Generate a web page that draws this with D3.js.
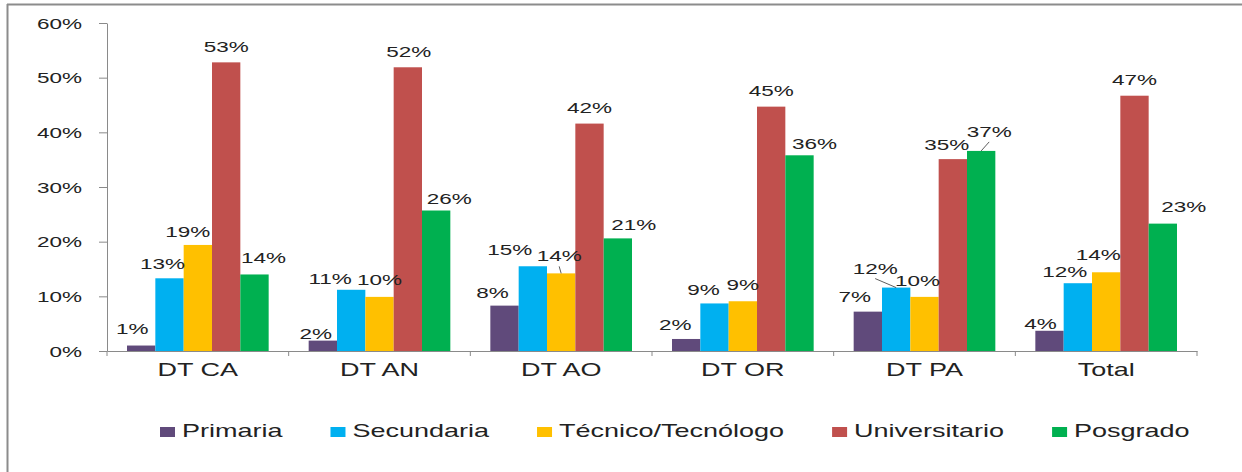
<!DOCTYPE html>
<html><head><meta charset="utf-8">
<script src="https://cdn.jsdelivr.net/npm/d3@7/dist/d3.min.js"></script>
<style>body{margin:0;background:#fff}svg{display:block}</style>
</head><body>
<svg id="c" width="1242" height="472"></svg>
<script>
const categories = ["DT CA","DT AN","DT AO","DT OR","DT PA","Total"];
const seriesNames = ["Primaria","Secundaria","Técnico/Tecnólogo","Universitario","Posgrado"];
const primaria    = [0.010,0.019,0.083,0.022,0.072,0.037];
const secundaria  = [0.133,0.112,0.155,0.087,0.116,0.124];
const tecnico     = [0.194,0.099,0.142,0.091,0.099,0.144];
const universitario=[0.528,0.519,0.416,0.447,0.351,0.467];
const posgrado    = [0.140,0.257,0.206,0.358,0.366,0.233];
const labels = [
  ["1%","13%","19%","53%","14%"],
  ["2%","11%","10%","52%","26%"],
  ["8%","15%","14%","42%","21%"],
  ["2%","9%","9%","45%","36%"],
  ["7%","12%","10%","35%","37%"],
  ["4%","12%","14%","47%","23%"]
];
const yTicks = [0,0.1,0.2,0.3,0.4,0.5,0.6];
const colors = ["#604A7B","#00B0F0","#FFC000","#C0504D","#00B050"];
// label nudges [dx,dy] (layout only)
const nudges = [
  [[-9,-3],[-7,0],[-10,1],[0,-1],[9,-2]],
  [[-7,7],[-21,3],[0,-3],[1,-1],[13,2]],
  [[-12,1],[-23,-2],[-2,-3],[0,-2],[16,1]],
  [[-11,0],[-11,1],[0,-2],[0,-2],[15,3]],
  [[-13,-1],[-21,-5],[-7,-2],[-6,0],[8,-5]],
  [[-9,7],[-13,3],[-8,-3],[0,-2],[21,-3]]
];
const leaders = [[2,2],[4,1],[4,4]];

const seriesValues = [primaria,secundaria,tecnico,universitario,posgrado];
const SX = 1.5;
const svg = d3.select("#c");
const font = "'Liberation Sans', Arial, sans-serif";
const axisColor = "#8a8a8a";

// frame
svg.append("line").attr("x1",7).attr("x2",1242).attr("y1",4.5).attr("y2",4.5).attr("stroke","#8c8c8c").attr("stroke-width",2);
svg.append("line").attr("x1",7.5).attr("x2",7.5).attr("y1",4).attr("y2",472).attr("stroke","#8c8c8c").attr("stroke-width",2);

const x = d3.scaleBand().domain(categories).range([107,1197]).paddingInner(0).paddingOuter(0);
const xs = d3.scaleBand().domain(d3.range(seriesNames.length)).range([0,x.bandwidth()]).paddingInner(0).paddingOuter(0.706);
const y = d3.scaleLinear().domain([0,0.6]).range([351,23]);

// y axis
const ya = svg.append("g").attr("transform","translate(107,0)")
  .call(d3.axisLeft(y).tickValues(yTicks).tickFormat(d3.format(".0%")).tickSize(8).tickSizeOuter(0));
ya.select(".domain").attr("stroke",axisColor);
ya.selectAll(".tick line").attr("stroke",axisColor);
ya.selectAll(".tick text").attr("x",0).attr("dy","0.35em").attr("transform",`translate(-25,0) scale(${SX},1)`)
  .attr("font-family",font).attr("font-size",15).attr("fill","#222").attr("text-anchor","end");

// bars
const groups = svg.append("g").selectAll("g").data(categories).join("g")
  .attr("transform",d=>`translate(${x(d)},0)`);
groups.selectAll("rect").data((c,i)=>seriesValues.map((s,j)=>({v:s[i],j}))).join("rect")
  .attr("x",d=>xs(d.j)).attr("width",xs.bandwidth())
  .attr("y",d=>y(d.v)).attr("height",d=>y(0)-y(d.v))
  .attr("fill",d=>colors[d.j]);

// x axis
const xa = svg.append("g").attr("transform","translate(0,351)")
  .call(d3.axisBottom(x).tickSize(0).tickSizeOuter(0));
xa.select(".domain").attr("stroke",axisColor);
xa.selectAll(".tick text").attr("y",0).attr("dy",0).attr("transform",`translate(0,24.5) scale(${SX},1)`)
  .attr("font-family",font).attr("font-size",18).attr("fill","#222");
const bounds = categories.map(c=>x(c)).concat([x.range()[1]]);
svg.append("g").selectAll("line").data(bounds).join("line")
  .attr("x1",d=>d).attr("x2",d=>d).attr("y1",351).attr("y2",356).attr("stroke",axisColor);

// data labels
const lab = svg.append("g");
function labelPos(i,j){
  const v = seriesValues[j][i];
  const cx = x(categories[i]) + xs(j) + xs.bandwidth()/2;
  const n = nudges[i][j];
  return {bx:cx, by:y(v), lx:cx+n[0], ly:y(v)-9+n[1]};
}
categories.forEach((c,i)=>{
  seriesNames.forEach((s,j)=>{
    const p = labelPos(i,j);
    lab.append("text").attr("transform",`translate(${p.lx},${p.ly}) scale(${SX},1)`)
      .attr("text-anchor","middle").attr("font-family",font).attr("font-size",15).attr("fill","#222")
      .text(labels[i][j]);
  });
});
leaders.forEach(([i,j])=>{
  const p = labelPos(i,j);
  lab.append("line").attr("x1",p.lx).attr("y1",p.ly+5).attr("x2",p.bx).attr("y2",p.by)
    .attr("stroke","#333").attr("stroke-width",0.8);
});

// legend
const leg = svg.append("g");
let lx = 160;
seriesNames.forEach((s,j)=>{
  leg.append("rect").attr("x",lx).attr("y",427).attr("width",15).attr("height",10).attr("fill",colors[j]);
  const t = leg.append("text").attr("transform",`translate(${lx+22},437) scale(${SX},1)`)
    .attr("font-family",font).attr("font-size",18).attr("fill","#222").text(s);
  const w = t.node().getComputedTextLength()*SX;
  lx += 22 + w + 48;
});
</script>
</body></html>
